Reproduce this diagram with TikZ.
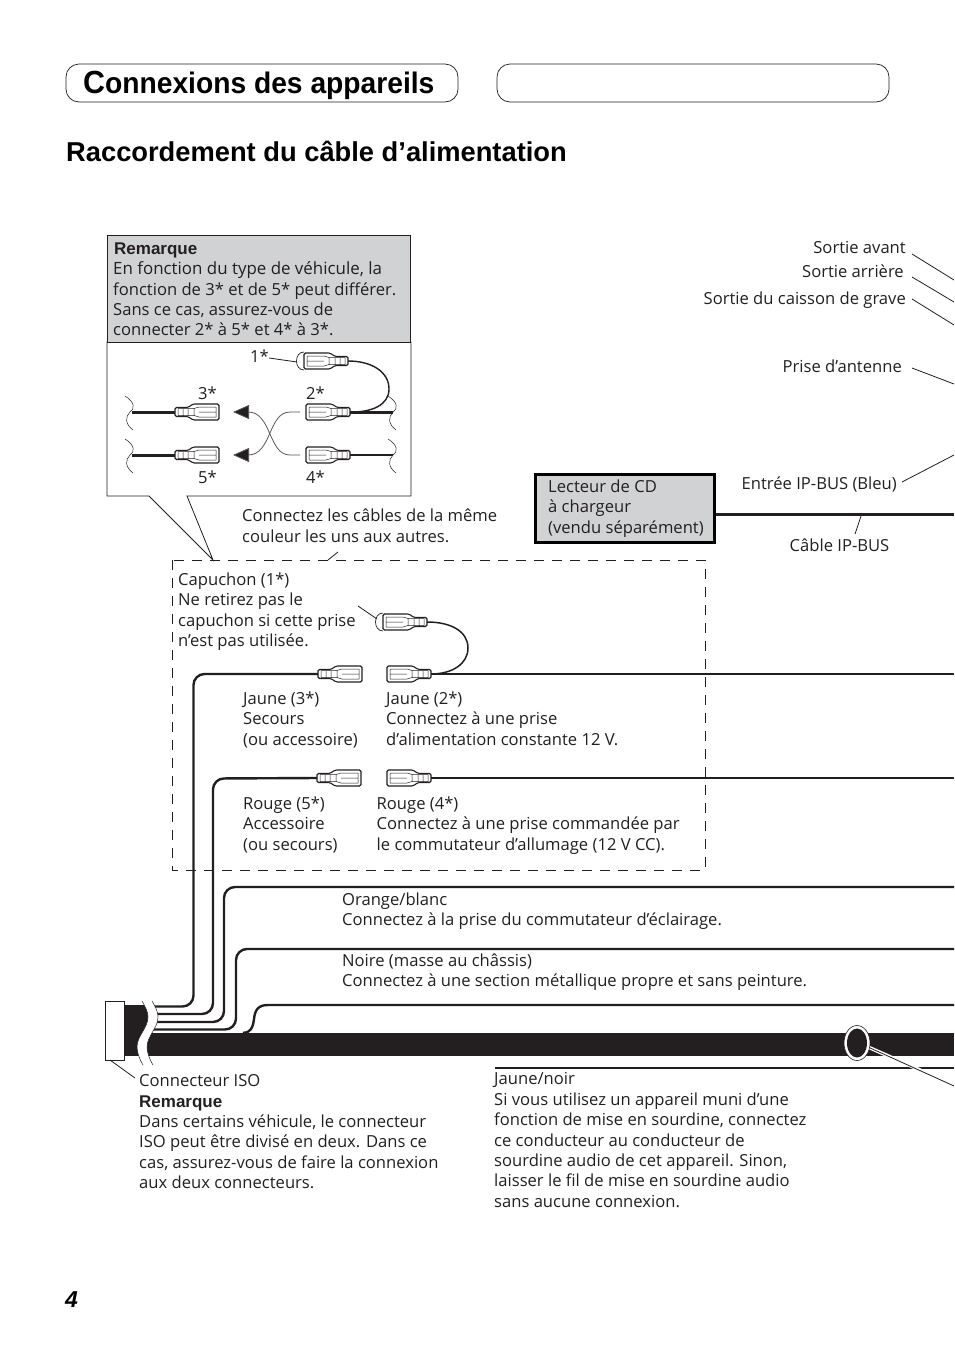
\documentclass[tikz,border=0pt]{standalone}
\usepackage{fontspec}
\setmainfont{Open Sans}
\newfontfamily\headfont[FakeStretch=0.95]{Liberation Sans Bold}
\newfontfamily\subfont{Liberation Sans Bold}
\usetikzlibrary{positioning}
\usetikzlibrary{arrows.meta}
\definecolor{inkblack}{HTML}{231F20}
\definecolor{notegray}{HTML}{D1D2D4}
\tikzset{
    txt/.style={anchor=north west, inner sep=0pt, align=left, text=inkblack, font=\fontsize{16.6}{20.4}\selectfont},
    rtxt/.style={anchor=base east, inner sep=0pt, text=inkblack, font=\fontsize{16.6}{20.4}\selectfont},
    wire/.style={inkblack, line width=2.4pt, rounded corners=11pt},
    leader/.style={inkblack, line width=0.8pt},
    squig/.style={inkblack, line width=0.5pt},
    swaparrow/.style={inkblack!75, line width=0.8pt, -{Triangle[length=16pt,width=14pt,fill=inkblack]}},
    plugbox/.pic={
        \draw[inkblack, fill=white, line width=1.1pt, rounded corners=1.5pt] (0,-4.5) -- (13,-4.5) -- (18,-8) -- (44,-8) -- (44,8) -- (18,8) -- (13,4.5) -- (0,4.5) -- cycle;
        \draw[inkblack, line width=0.5pt] (3,-3.5) rectangle (19,3.5) (8,-3.5) -- (8,3.5) (13,-3.5) -- (13,3.5) (19,-3.5) -- (24,-5) -- (41,-5) -- (41,5) -- (24,5) -- (19,3.5) (24,0) -- (41,0);
        \coordinate (-end) at (0,0);
    },
    plugcap/.pic={
        \draw[inkblack, fill=white, line width=0.7pt] (44,-9) .. controls (54,-9) and (54,9) .. (44,9);
        \draw[inkblack, fill=white, line width=1.1pt, rounded corners=1.5pt] (0,-4.5) -- (13,-4.5) -- (18,-8) -- (44,-8) -- (44,8) -- (18,8) -- (13,4.5) -- (0,4.5) -- cycle;
        \draw[inkblack, line width=0.5pt] (3,-3.5) rectangle (19,3.5) (8,-3.5) -- (8,3.5) (13,-3.5) -- (13,3.5) (19,-3.5) -- (24,-5) -- (41,-5) -- (41,5) -- (24,5) -- (19,3.5) (24,0) -- (41,0);
        \coordinate (-end) at (0,0);
    },
}

\begin{document}
\begin{tikzpicture}[x=1pt,y=-1pt]
    \useasboundingbox (0,0) rectangle (954,1352);

    % heading
    \draw[inkblack, line width=0.7pt, rounded corners=13pt] (66,64) rectangle (458,102);
    \draw[inkblack, line width=0.7pt, rounded corners=13pt] (497,64) rectangle (889,102);
    \node[anchor=base west, inner sep=0pt, text=black] (title) at (83,93.5) {\headfont\fontsize{32}{34}\selectfont C\fontsize{29.7}{34}\selectfont onnexions des appareils};
    \node[anchor=base west, inner sep=0pt, text=black] (subtitle) at (66,161) {\subfont\fontsize{27.3}{32}\selectfont Raccordement du câble d’alimentation};
    \node[anchor=base west, inner sep=0pt, text=black] (pagenum) at (65,1307) {\subfont\itshape\fontsize{23}{26}\selectfont 4};

    % note box with pointer
    \draw[inkblack, fill=white, line width=0.8pt] (107,342) -- (411,342) -- (411,496) -- (187,496) -- (213,560) -- (149,496) -- (107,496) -- cycle;
    \fill[notegray] (107,235) rectangle (410.5,342);
    \draw[inkblack, line width=0.8pt] (107,342) -- (107,235) (410.5,235) -- (410.5,342) (107,342) -- (411,342);
    \draw[inkblack, line width=1.6pt] (106.5,235.5) -- (411,235.5);
    \node[txt] (note) at (113,261.5) {\fontsize{16.9}{20.4}\selectfont En fonction du type de véhicule, la\\fonction de 3* et de 5* peut différer.\\Sans ce cas, assurez-vous de\\connecter 2* à 5* et 4* à 3*.};
    \node[anchor=base west, inner sep=0pt, text=inkblack] (notehead) at (114,254) {\subfont\fontsize{17}{20}\selectfont Remarque};

    % small plugs in the note
    \pic (pa) at (175,412) {plugbox};
    \pic (pb) at (175,455) {plugbox};
    \pic[xscale=-1] (pc) at (350,412) {plugbox};
    \pic[xscale=-1] (pd) at (350,455) {plugbox};
    \pic[xscale=-1] (pe) at (348,361) {plugcap};
    \draw[inkblack, line width=3pt] (132,412) -- (pa-end);
    \draw[inkblack, line width=3pt] (132,455) -- (pb-end);
    \draw[inkblack, line width=3pt] (pc-end) -- (393,412);
    \draw[inkblack, line width=2.4pt] (pd-end) -- (393,455);
    \draw[inkblack, line width=1.4pt] (pe-end) .. controls (372,361) and (389,372) .. (389,389) .. controls (389,405) and (372,412) .. (352,412);
    \foreach \ya in {412,455} {
        \draw[squig] (125,\ya-16) .. controls (135,\ya-10) and (135,\ya-3) .. (130,\ya) .. controls (125,\ya+5) and (125,\ya+12) .. (133,\ya+18);
        \draw[squig] (388,\ya-16) .. controls (398,\ya-10) and (398,\ya-3) .. (393,\ya) .. controls (388,\ya+5) and (388,\ya+12) .. (396,\ya+18);
    }
    \node[txt] (l3) at (198,387) {3*};
    \node[txt] (l5) at (198,471) {5*};
    \node[txt] (l2) at (306,387) {2*};
    \node[txt] (l4) at (306,471) {4*};
    \node[txt] (l1) at (250,350) {1*};
    \coordinate (capa) at (297,362);
    \draw[leader] (269,358) -- (capa);

    % crossing arrows
    \coordinate (swapa) at (300,412);
    \coordinate (swapb) at (300,455);
    \coordinate (swapc) at (233,412);
    \coordinate (swapd) at (233,455);
    \draw[swaparrow] (swapb) -- (290,455) .. controls (268,455) and (272,412) .. (248,412) -- (swapc);
    \draw[swaparrow] (swapa) -- (290,412) .. controls (268,412) and (272,455) .. (248,455) -- (swapd);

    % dashed frame
    \draw[inkblack, line width=1pt, dash pattern=on 10pt off 8pt] (172,560) rectangle (705,870);
    \node[txt] (same) at (242,509) {Connectez les câbles de la même\\couleur les uns aux autres.};
    \coordinate (sametick) at (328,560);
    \draw[leader] (338,552) -- (sametick);

    % charger box
    \node[draw=black, fill=notegray, line width=3pt, minimum width=179pt, minimum height=68pt, inner sep=0pt] (cdbox) at (625,508) {};
    \node[txt] (cdtext) at (548,479.5) {Lecteur de CD\\à chargeur\\(vendu séparément)};
    \coordinate (busend) at (954,514);
    \draw[inkblack, line width=3pt] (cdbox.east |- busend) -- (busend);

    % right side labels
    \node[rtxt] (front) at (906,253) {Sortie avant};
    \node[rtxt] (rear) at (904,277) {Sortie arrière};
    \node[rtxt] (sub) at (906,304) {Sortie du caisson de grave};
    \node[rtxt] (ant) at (902,372) {Prise d’antenne};
    \node[rtxt] (ipin) at (897,489) {Entrée IP-BUS (Bleu)};
    \node[anchor=north, inner sep=0pt, text=inkblack, font=\fontsize{16.6}{20.4}\selectfont] (ipcab) at (839.5,538.5) {Câble IP-BUS};
    \coordinate (fronte) at (954,280);
    \coordinate (reare) at (954,302);
    \coordinate (sube) at (954,325);
    \coordinate (ante) at (954,384);
    \coordinate (ipine) at (954,455);
    \coordinate (ipcabe) at (861,516);
    \draw[leader] (912,254) -- (fronte);
    \draw[leader] (912,277) -- (reare);
    \draw[leader] (912,299) -- (sube);
    \draw[leader] (912,368) -- (ante);
    \draw[leader] (902,482) -- (ipine);
    \draw[leader] (855,534) -- (ipcabe);

    % cap text and plugs in the frame
    \node[txt] (cap) at (178,572.5) {Capuchon (1*)\\Ne retirez pas le\\capuchon si cette prise\\n’est pas utilisée.};
    \pic (qa) at (318,674) {plugbox};
    \pic[xscale=-1] (qb) at (431,674) {plugbox};
    \pic (qc) at (317,778) {plugbox};
    \pic[xscale=-1] (qd) at (431,778) {plugbox};
    \pic[xscale=-1] (qe) at (427,622) {plugcap};
    \coordinate (yelend) at (954,674);
    \coordinate (redend) at (954,778);
    \draw[inkblack, line width=1.5pt] (qe-end) .. controls (452,622) and (468,632) .. (468,648) .. controls (468,664) and (452,674) .. (431,674);
    \draw[leader] (358,606) -- (377,619);
    \draw[inkblack, line width=2.4pt] (qb-end) -- (yelend);
    \draw[inkblack, line width=2.4pt] (qd-end) -- (redend);

    \node[txt] (y3) at (243,691.5) {Jaune (3*)\\Secours\\(ou accessoire)};
    \node[txt] (y2) at (386,691.5) {Jaune (2*)\\Connectez à une prise\\d’alimentation constante 12 V.};
    \node[txt] (r5) at (243,796.5) {Rouge (5*)\\Accessoire\\(ou secours)};
    \node[txt] (r4) at (376.5,796.5) {Rouge (4*)\\Connectez à une prise commandée par\\le commutateur d’allumage (12 V CC).};
    \node[txt] (oran) at (342,892.5) {Orange/blanc\\Connectez à la prise du commutateur d’éclairage.};
    \node[txt] (noir) at (342,953.5) {Noire (masse au châssis)\\Connectez à une section métallique propre et sans peinture.};

    % cable bundle
    \coordinate (orend) at (954,887);
    \coordinate (blend) at (954,949);
    \coordinate (muend) at (954,1005);
    \draw[wire] (qa-end) -- (193.5,674) -- (193.5,1006.5) -- (150,1006.5);
    \draw[wire] (qc-end) -- (213,778.5) -- (213,1014) -- (150,1014);
    \draw[wire] (orend) -- (224,887) -- (224,1022) -- (150,1022);
    \draw[wire] (blend) -- (236,949) -- (236,1029.5) -- (150,1029.5);
    \draw[inkblack, line width=2.4pt] (muend) -- (268,1005) .. controls (258,1005) and (255,1010) .. (254,1019) .. controls (253,1028) and (250,1033) .. (243,1033);
    \fill[inkblack] (124,1005) rectangle (150,1056);
    \fill[inkblack] (150,1033) rectangle (954,1056);
    \draw[inkblack, line width=1.6pt] (495,1068) -- (954,1068);
    \fill[white] (142,1001) .. controls (146,1008) and (148,1012) .. (148,1017) .. controls (148,1028) and (137,1036) .. (137,1047) .. controls (137,1053) and (140,1060) .. (143,1065) -- (153,1065) .. controls (150,1060) and (147,1053) .. (147,1047) .. controls (147,1036) and (158,1028) .. (158,1017) .. controls (158,1012) and (156,1008) .. (152,1001) -- cycle;
    \draw[squig] (142,1001) .. controls (146,1008) and (148,1012) .. (148,1017) .. controls (148,1028) and (137,1036) .. (137,1047) .. controls (137,1053) and (140,1060) .. (143,1065);
    \draw[squig] (152,1001) .. controls (156,1008) and (158,1012) .. (158,1017) .. controls (158,1028) and (147,1036) .. (147,1047) .. controls (147,1053) and (150,1060) .. (153,1065);
    \draw[inkblack, fill=white, line width=0.8pt] (105,1001) rectangle (124,1060);

    % tag on the cable
    \coordinate (tage) at (954,1086);
    \draw[white, line width=3.5pt] (868,1047) -- (954,1085);
    \draw[leader] (868,1047) -- (tage);
    \draw[inkblack, line width=0.6pt, fill=white] (857,1043) ellipse (13 and 17.5);
    \fill[inkblack] (857,1043) ellipse (10 and 14.5);

    \coordinate (isoe) at (110,1060);
    \draw[leader] (135,1078) -- (isoe);
    \node[txt] (iso) at (139,1074.5) {Connecteur ISO\\\subfont\fontsize{17}{20.4}\selectfont Remarque\\Dans certains véhicule, le connecteur\\ISO peut être divisé en deux. Dans ce\\cas, assurez-vous de faire la connexion\\aux deux connecteurs.};
    \node[txt] (mute) at (494,1072.5) {Jaune/noir\\Si vous utilisez un appareil muni d’une\\fonction de mise en sourdine, connectez\\ce conducteur au conducteur de\\sourdine audio de cet appareil. Sinon,\\laisser le fil de mise en sourdine audio\\sans aucune connexion.};
\end{tikzpicture}
\end{document}
